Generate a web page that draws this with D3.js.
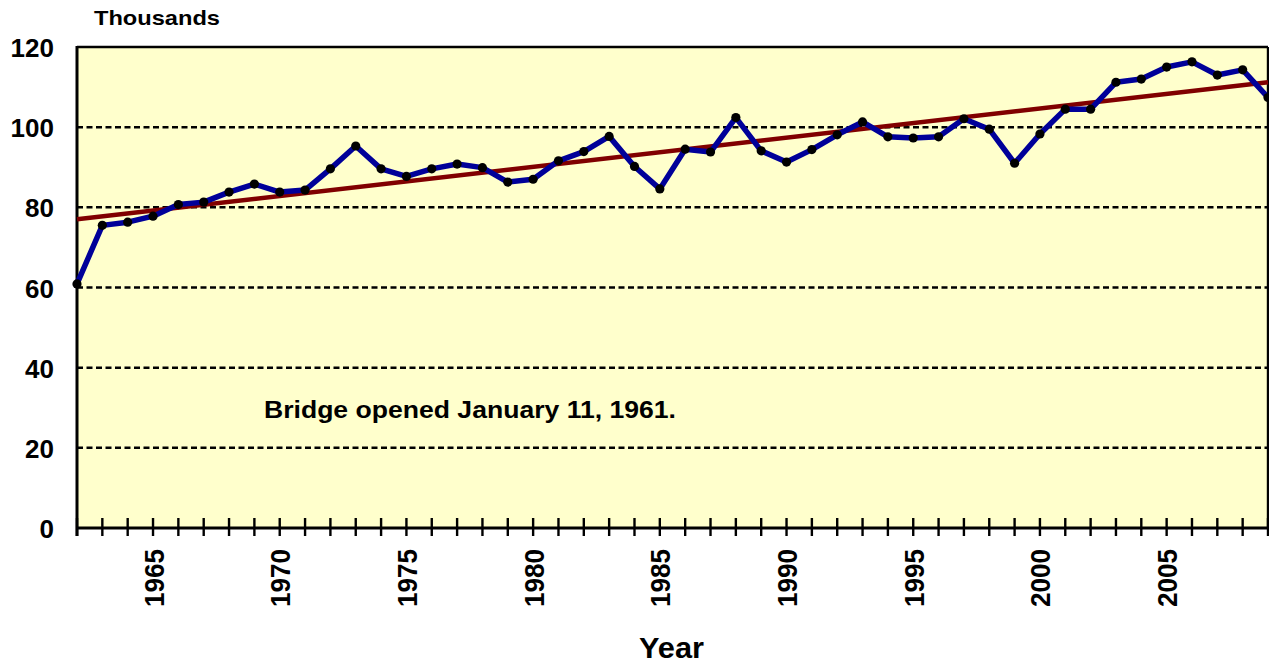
<!DOCTYPE html>
<html>
<head>
<meta charset="utf-8">
<script src="https://cdn.jsdelivr.net/npm/d3@7"></script>
<style>
  html, body { margin: 0; padding: 0; background: #ffffff; }
  svg { display: block; font-family: Arial, "Liberation Sans", sans-serif; }
</style>
</head>
<body>
<svg id="chart" width="1269" height="664"></svg>
<script>
// ---- data ----
const years = [1962,1963,1964,1965,1966,1967,1968,1969,1970,1971,1972,1973,1974,1975,1976,1977,1978,1979,1980,1981,1982,1983,1984,1985,1986,1987,1988,1989,1990,1991,1992,1993,1994,1995,1996,1997,1998,1999,2000,2001,2002,2003,2004,2005,2006,2007,2008,2009];
const traffic = [60.9,75.5,76.3,77.8,80.7,81.3,83.8,85.8,83.8,84.3,89.6,95.3,89.6,87.7,89.6,90.8,89.9,86.3,87.0,91.6,93.9,97.7,90.2,84.6,94.5,93.8,102.4,94.1,91.3,94.4,98.1,101.3,97.6,97.3,97.6,102.1,99.5,91.0,98.3,104.5,104.5,111.2,112.0,115.0,116.3,113.0,114.3,107.4];
const trendYears = [1962, 2009];
const trendValues = [77.0, 111.2];
const yTicks = [0, 20, 40, 60, 80, 100, 120];
const xLabelYears = [1965, 1970, 1975, 1980, 1985, 1990, 1995, 2000, 2005];
const yUnitLabel = "Thousands";
const xTitle = "Year";
const note = "Bridge opened January 11, 1961.";

// ---- layout ----
const svg = d3.select("#chart");
const pL = 77, pR = 1268, pT = 47, pB = 528;

const x = d3.scaleLinear().domain([1962, 2009]).range([pL, pR]);
const y = d3.scaleLinear().domain([0, 120]).range([pB, pT]);

// background
svg.append("rect")
  .attr("x", pL).attr("y", pT)
  .attr("width", pR - pL).attr("height", pB - pT)
  .attr("fill", "#FFFFCC");

// grid lines (dashed)
svg.append("g").selectAll("line")
  .data(yTicks.filter(d => d > 0 && d < 120))
  .join("line")
  .attr("x1", pL).attr("x2", pR)
  .attr("y1", d => y(d)).attr("y2", d => y(d))
  .attr("stroke", "#000").attr("stroke-width", 2.5)
  .attr("stroke-dasharray", "6,3.5");

// border top & right
svg.append("line").attr("x1", pL).attr("x2", pR).attr("y1", pT).attr("y2", pT)
  .attr("stroke", "#000").attr("stroke-width", 2.4);
svg.append("line").attr("x1", pR).attr("x2", pR).attr("y1", pT).attr("y2", pB)
  .attr("stroke", "#000").attr("stroke-width", 2.4);

// x axis ticks (every year, crossing the axis)
svg.append("g").selectAll("line")
  .data(years)
  .join("line")
  .attr("x1", d => x(d)).attr("x2", d => x(d))
  .attr("y1", pB - 10).attr("y2", pB + 8)
  .attr("stroke", "#000").attr("stroke-width", 2.4);

// axis lines
svg.append("line").attr("x1", pL).attr("x2", pR).attr("y1", pB).attr("y2", pB)
  .attr("stroke", "#000").attr("stroke-width", 3);
svg.append("line").attr("x1", pL).attr("x2", pL).attr("y1", pT - 1).attr("y2", pB + 8)
  .attr("stroke", "#000").attr("stroke-width", 3);

// y tick labels
svg.append("g").selectAll("text")
  .data(yTicks)
  .join("text")
  .attr("x", 54).attr("y", d => y(d) + 10)
  .attr("text-anchor", "end")
  .attr("font-size", 26).attr("font-weight", "bold")
  .text(d => d);

// x tick labels (rotated)
svg.append("g").selectAll("text")
  .data(xLabelYears)
  .join("text")
  .attr("transform", d => `translate(${x(d) + 10.5},549) rotate(-90)`)
  .attr("text-anchor", "end")
  .attr("font-size", 27).attr("font-weight", "bold")
  .attr("textLength", 58).attr("lengthAdjust", "spacingAndGlyphs")
  .text(d => d);

// trend line
const trend = trendYears.map((d, i) => ({ year: d, value: trendValues[i] }));
svg.append("path")
  .datum(trend)
  .attr("fill", "none")
  .attr("stroke", "#800000").attr("stroke-width", 4.5)
  .attr("d", d3.line().x(d => x(d.year)).y(d => y(d.value)));

// data line
const series = years.map((d, i) => ({ year: d, value: traffic[i] }));
svg.append("path")
  .datum(series)
  .attr("fill", "none")
  .attr("stroke", "#000099").attr("stroke-width", 5.5)
  .attr("stroke-linejoin", "round")
  .attr("d", d3.line().x(d => x(d.year)).y(d => y(d.value)));

// markers
svg.append("g").selectAll("circle")
  .data(series)
  .join("circle")
  .attr("cx", d => x(d.year)).attr("cy", d => y(d.value))
  .attr("r", 4.6).attr("fill", "#000");

// texts
svg.append("text").attr("x", 94).attr("y", 25)
  .attr("font-size", 21).attr("font-weight", "bold")
  .attr("textLength", 126).attr("lengthAdjust", "spacingAndGlyphs")
  .text(yUnitLabel);

svg.append("text").attr("x", 264).attr("y", 418)
  .attr("font-size", 23).attr("font-weight", "bold")
  .attr("textLength", 412).attr("lengthAdjust", "spacingAndGlyphs")
  .text(note);

svg.append("text").attr("x", 639).attr("y", 658)
  .attr("font-size", 29).attr("font-weight", "bold")
  .attr("textLength", 65).attr("lengthAdjust", "spacingAndGlyphs")
  .text(xTitle);
</script>
</body>
</html>
